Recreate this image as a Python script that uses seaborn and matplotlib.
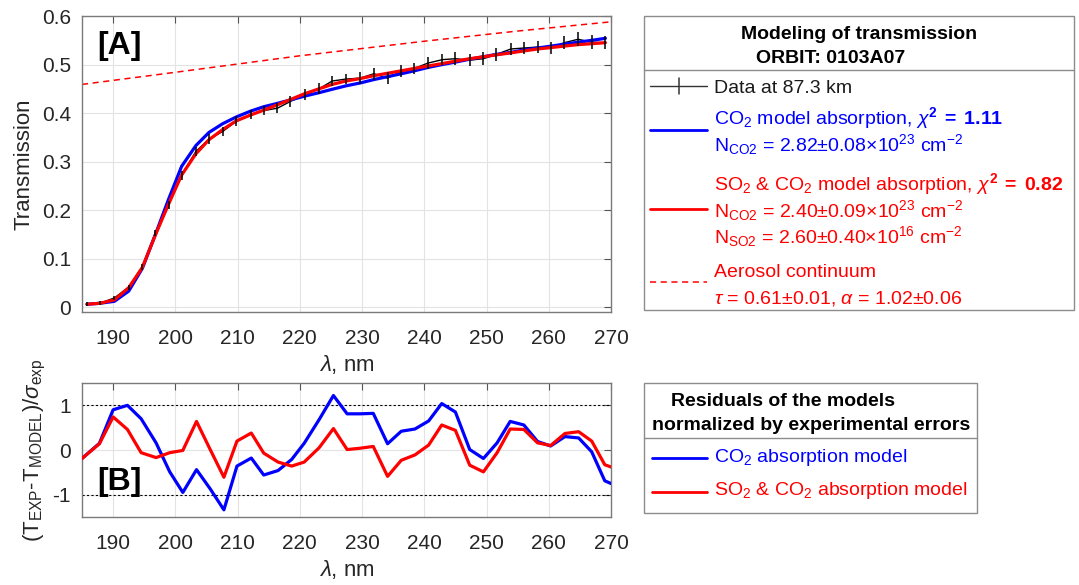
import numpy as np
import pandas as pd
import matplotlib
matplotlib.use("Agg")
import matplotlib.pyplot as plt
from matplotlib.lines import Line2D
from matplotlib.patches import Rectangle
import seaborn as sns

# ---------------- data ----------------
wavelength = [185.8, 187.9, 190.2, 192.5, 194.7, 196.8, 198.9, 201.0, 203.3, 205.4,
              207.6, 209.8, 212.1, 214.2, 216.4, 218.5, 220.8, 223.1, 225.2, 227.4,
              229.7, 231.9, 234.1, 236.3, 238.4, 240.6, 242.9, 245.0, 247.3, 249.5,
              251.6, 253.9, 256.0, 258.2, 260.4, 262.5, 264.7, 267.0, 269.1]
transmission_data = [0.006, 0.008, 0.019, 0.041, 0.083, 0.153, 0.210, 0.272, 0.321, 0.346,
                     0.362, 0.383, 0.397, 0.405, 0.410, 0.424, 0.438, 0.450, 0.466, 0.470,
                     0.472, 0.481, 0.472, 0.486, 0.492, 0.503, 0.510, 0.512, 0.509, 0.512,
                     0.521, 0.532, 0.534, 0.536, 0.534, 0.545, 0.552, 0.546, 0.545]
transmission_err = [0.004, 0.004, 0.005, 0.005, 0.006, 0.007, 0.008, 0.009, 0.009, 0.010,
                    0.010, 0.010, 0.010, 0.010, 0.010, 0.011, 0.011, 0.011, 0.011, 0.011,
                    0.012, 0.012, 0.012, 0.012, 0.012, 0.012, 0.012, 0.013, 0.013, 0.013,
                    0.013, 0.013, 0.013, 0.013, 0.013, 0.014, 0.014, 0.014, 0.014]
model_co2 = [0.006, 0.008, 0.012, 0.033, 0.080, 0.150, 0.222, 0.290, 0.333, 0.360,
             0.378, 0.392, 0.404, 0.413, 0.420, 0.427, 0.435, 0.442, 0.449, 0.456,
             0.462, 0.469, 0.475, 0.481, 0.487, 0.494, 0.500, 0.505, 0.511, 0.516,
             0.521, 0.525, 0.530, 0.534, 0.538, 0.542, 0.546, 0.550, 0.554]
model_so2_co2 = [0.006, 0.008, 0.015, 0.040, 0.082, 0.149, 0.212, 0.272, 0.316, 0.345,
                 0.366, 0.384, 0.396, 0.406, 0.417, 0.428, 0.440, 0.450, 0.459, 0.466,
                 0.471, 0.477, 0.482, 0.487, 0.492, 0.497, 0.502, 0.507, 0.512, 0.516,
                 0.520, 0.524, 0.528, 0.532, 0.535, 0.538, 0.541, 0.543, 0.545]
aerosol_wavelength = [185.0, 200.0, 220.0, 240.0, 255.0, 270.0]
aerosol_continuum = [0.459, 0.484, 0.518, 0.548, 0.569, 0.588]

res_wavelength = [185.0, 187.8, 190.0, 192.3, 194.5, 196.9, 199.1, 201.2, 203.4, 205.6,
                  207.8, 209.9, 212.2, 214.2, 216.5, 218.7, 220.7, 223.1, 225.4, 227.6,
                  229.7, 231.8, 234.1, 236.3, 238.5, 240.7, 242.8, 245.0, 247.3, 249.5,
                  251.7, 253.8, 256.0, 258.2, 260.3, 262.6, 264.8, 266.9, 269.0, 270.0]
res_co2 = [-0.19, 0.15, 0.90, 1.00, 0.70, 0.16, -0.49, -0.95, -0.44, -0.87,
           -1.34, -0.36, -0.18, -0.56, -0.46, -0.21, 0.15, 0.68, 1.22, 0.81,
           0.81, 0.82, 0.14, 0.42, 0.47, 0.65, 1.04, 0.85, 0.01, -0.19,
           0.16, 0.64, 0.56, 0.19, 0.09, 0.30, 0.27, -0.04, -0.69, -0.75]
res_so2_co2 = [-0.19, 0.14, 0.74, 0.46, -0.06, -0.17, -0.06, -0.01, 0.64, 0.01,
               -0.61, 0.20, 0.38, -0.07, -0.27, -0.36, -0.27, 0.05, 0.48, 0.01,
               0.04, 0.08, -0.59, -0.23, -0.11, 0.11, 0.56, 0.44, -0.34, -0.49,
               -0.06, 0.47, 0.46, 0.16, 0.10, 0.37, 0.41, 0.20, -0.33, -0.38]

x_ticks = [190, 200, 210, 220, 230, 240, 250, 260, 270]
x_ticklabels = ["190", "200", "210", "220", "230", "240", "250", "260", "270"]
top_yticks = [0, 0.1, 0.2, 0.3, 0.4, 0.5, 0.6]
top_yticklabels = ["0", "0.1", "0.2", "0.3", "0.4", "0.5", "0.6"]
bot_yticks = [-1, 0, 1]
bot_yticklabels = ["-1", "0", "1"]

legend_top_title = ["Modeling of transmission", "ORBIT: 0103A07"]
legend_top_texts = [
    "Data at 87.3 km",
    r"CO$_2$ model absorption, $\chi^{\mathbf{2}}\mathbf{\;=\;1.11}$",
    r"N$_{\mathrm{CO2}}$ = 2.82±0.08×10$^{23}$ cm$^{-2}$",
    r"SO$_2$ & CO$_2$ model absorption, $\chi^{\mathbf{2}}\mathbf{\;=\;0.82}$",
    r"N$_{\mathrm{CO2}}$ = 2.40±0.09×10$^{23}$ cm$^{-2}$",
    r"N$_{\mathrm{SO2}}$ = 2.60±0.40×10$^{16}$ cm$^{-2}$",
    "Aerosol continuum",
    r"$\tau$ = 0.61±0.01, $\alpha$ = 1.02±0.06",
]
legend_bot_title = ["Residuals of the models", "normalized by experimental errors"]
legend_bot_texts = [r"CO$_2$ absorption model", r"SO$_2$ & CO$_2$ absorption model"]

BLUE = "#0000FF"
RED = "#FF0000"
GRAY = "#262626"

# ---------------- style ----------------
sns.set_style("white")
plt.rcParams["font.family"] = ["Liberation Sans", "DejaVu Sans"]
plt.rcParams["mathtext.fontset"] = "custom"
plt.rcParams["mathtext.rm"] = "Liberation Sans"
plt.rcParams["mathtext.it"] = "Liberation Sans:italic"
plt.rcParams["mathtext.bf"] = "Liberation Sans:bold"
plt.rcParams["axes.unicode_minus"] = False

W, H = 1079, 585
fig = plt.figure(figsize=(W / 100, H / 100), dpi=100)


def fx(px):
    return px / W


def fy(py):
    return 1 - py / H


ax1 = fig.add_axes([fx(82), fy(312), 529 / W, 296 / H])
ax2 = fig.add_axes([fx(82), fy(517), 529 / W, 134 / H])

top_df = pd.DataFrame({"wl": wavelength, "data": transmission_data,
                       "co2": model_co2, "so2co2": model_so2_co2})
aer_df = pd.DataFrame({"wl": aerosol_wavelength, "aer": aerosol_continuum})
res_df = pd.DataFrame({"wl": res_wavelength, "co2": res_co2, "so2co2": res_so2_co2})

# top panel
sns.lineplot(data=aer_df, x="wl", y="aer", ax=ax1, color=RED, lw=1.1,
             linestyle=(0, (4, 3)), sort=False, estimator=None, zorder=2)
sns.lineplot(data=top_df, x="wl", y="data", ax=ax1, color="k", lw=1.0,
             sort=False, estimator=None, zorder=3)
sns.lineplot(data=top_df, x="wl", y="co2", ax=ax1, color=BLUE, lw=2.3,
             sort=False, estimator=None, zorder=4)
sns.lineplot(data=top_df, x="wl", y="so2co2", ax=ax1, color=RED, lw=2.3,
             sort=False, estimator=None, zorder=5)
ax1.errorbar(top_df["wl"], top_df["data"], yerr=transmission_err, fmt="none",
             ecolor="k", elinewidth=1.1, capsize=0, zorder=6)

ax1.set_xlim(185, 270)
ax1.set_ylim(-0.01, 0.6)
ax1.set_yticks(top_yticks)
ax1.set_yticklabels(top_yticklabels)
ax1.set_ylabel("Transmission", fontsize=16, color=GRAY, labelpad=5)
ax1.text(0.028, 0.90, "[A]", transform=ax1.transAxes, fontsize=23,
         fontweight="bold", va="center", ha="left", color="k")

# bottom panel
ax2.axhline(1, color="k", lw=0.8, ls=(0, (2, 2)), zorder=2)
ax2.axhline(-1, color="k", lw=0.8, ls=(0, (2, 2)), zorder=2)
sns.lineplot(data=res_df, x="wl", y="co2", ax=ax2, color=BLUE, lw=2.3,
             sort=False, estimator=None, zorder=3)
sns.lineplot(data=res_df, x="wl", y="so2co2", ax=ax2, color=RED, lw=2.3,
             sort=False, estimator=None, zorder=4)
ax2.set_xlim(185, 270)
ax2.set_ylim(-1.5, 1.5)
ax2.set_yticks(bot_yticks)
ax2.set_yticklabels(bot_yticklabels)
ax2.set_ylabel(r"(T$_{\mathrm{EXP}}$-T$_{\mathrm{MODEL}}$)/$\sigma_{\mathrm{exp}}$",
               fontsize=16, color=GRAY, labelpad=3)
ax2.text(0.028, 0.26, "[B]", transform=ax2.transAxes, fontsize=23,
         fontweight="bold", va="center", ha="left", color="k")

for ax in (ax1, ax2):
    ax.set_xticks(x_ticks)
    ax.set_xticklabels(x_ticklabels)
    ax.set_xlabel(r"$\lambda$, nm", fontsize=16, color=GRAY, labelpad=4)
    ax.grid(True, color="#e3e3e3", lw=0.8)
    ax.set_axisbelow(True)
    ax.tick_params(direction="in", length=5, width=0.8, top=True, right=True,
                   labelsize=15, labelcolor=GRAY, color="#555555", pad=8)
    ax.tick_params(axis="x", pad=12)
    for sp in ax.spines.values():
        sp.set_color("#7a7a7a")
        sp.set_linewidth(1.0)

# ---------------- legend boxes (figure coords) ----------------
def box(x0, y0, x1, y1, ysep):
    fig.add_artist(Rectangle((fx(x0), fy(y1)), fx(x1) - fx(x0), fy(y0) - fy(y1),
                             transform=fig.transFigure, fill=True, facecolor="white",
                             edgecolor="#8c8c8c", lw=1.0))
    fig.add_artist(Line2D([fx(x0), fx(x1)], [fy(ysep), fy(ysep)],
                          transform=fig.transFigure, color="#8c8c8c", lw=1.0))


def sample(x0, x1, y, color, ls="-", lw=2.0):
    fig.add_artist(Line2D([fx(x0), fx(x1)], [fy(y), fy(y)], transform=fig.transFigure,
                          color=color, lw=lw, linestyle=ls))


def txt(x, y, s, color, bold=False, size=14):
    fig.text(fx(x), fy(y), s, color=color, fontsize=size, va="baseline", ha="left",
             fontweight="bold" if bold else "normal")


# top legend
box(644, 16, 1074, 310, 70)
txt(741, 39, legend_top_title[0], "k", bold=True)
txt(756, 63, legend_top_title[1], "k", bold=True)
sample(650, 707, 86, "#333333", lw=1.0)
fig.add_artist(Line2D([fx(679), fx(679)], [fy(78), fy(94)], transform=fig.transFigure,
                      color="#333333", lw=1.1))
txt(714, 93, legend_top_texts[0], "#1a1a1a")
sample(650, 707, 130, BLUE)
txt(714, 124, legend_top_texts[1], BLUE)
txt(714, 151, legend_top_texts[2], BLUE)
sample(650, 707, 209, RED)
txt(714, 190, legend_top_texts[3], RED)
txt(714, 217, legend_top_texts[4], RED)
txt(714, 243, legend_top_texts[5], RED)
sample(650, 707, 282, RED, ls=(0, (4, 3)), lw=1.1)
txt(714, 277, legend_top_texts[6], RED)
txt(714, 303, legend_top_texts[7], RED)

# bottom legend
box(644, 383, 977, 513, 438)
txt(671, 406, legend_bot_title[0], "k", bold=True)
txt(652, 430, legend_bot_title[1], "k", bold=True)
sample(652, 707, 458, BLUE)
txt(714, 462, legend_bot_texts[0], BLUE)
sample(652, 707, 492, RED)
txt(714, 495, legend_bot_texts[1], RED)

fig.savefig("out.png", dpi=100)
